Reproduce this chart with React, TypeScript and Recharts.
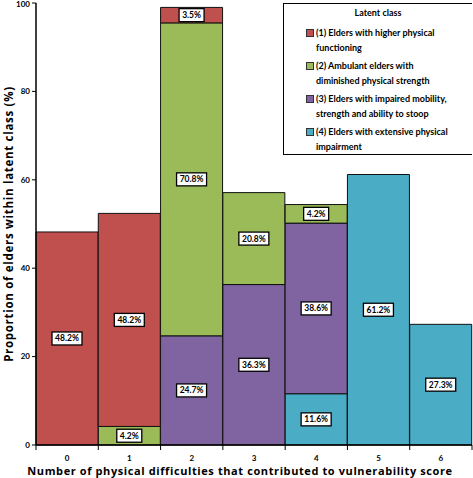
import React from 'react';
import { BarChart, Bar, XAxis, YAxis, LabelList, Legend, Label } from 'recharts';

const categories = ['0', '1', '2', '3', '4', '5', '6'];
const class1 = [48.2, 48.2, 3.5, null, null, null, null];
const class2 = [null, 4.2, 70.8, 20.8, 4.2, null, null];
const class3 = [null, null, 24.7, 36.3, 38.6, null, null];
const class4 = [null, null, null, null, 11.6, 61.2, 27.3];
const yTicks = [0, 20, 40, 60, 80, 100];

const seriesNames = [
  ['(1) Elders with higher physical', 'functioning'],
  ['(2) Ambulant elders with', 'diminished physical strength'],
  ['(3) Elders with impaired mobility,', 'strength and ability to stoop'],
  ['(4) Elders with extensive physical', 'impairment'],
];
const seriesColors = ['#C0504D', '#9BBB59', '#8064A2', '#4BACC6'];

const data = categories.map((c, i) => ({
  cat: c,
  c1: class1[i],
  c2: class2[i],
  c3: class3[i],
  c4: class4[i],
}));

const FONT = 'Lato, "Open Sans", sans-serif';
const TITLE_FONT = '"Open Sans", sans-serif';

const ValueBox = (props: any) => {
  const { x, y, width, height, value } = props;
  if (value == null) return null;
  const text = `${value}%`;
  const w = text.length * 5 + 5;
  const h = 13;
  const cx = x + width / 2;
  const cy = y + height / 2;
  return (
    <g>
      <rect x={cx - w / 2} y={cy - h / 2} width={w} height={h} fill="#fff" stroke="#000" strokeWidth={1.3} />
      <text x={cx} y={cy + 3} textAnchor="middle" fontFamily={FONT} fontWeight={700} fontSize={8.5} fill="#000">
        {text}
      </text>
    </g>
  );
};

const XTick = (props: any) => {
  const { x, y, payload, index } = props;
  const off = payload.offset || 0;
  return (
    <g>
      <line x1={x - off} y1={y - 8} x2={x - off} y2={y - 3} stroke="#000" />
      {index === categories.length - 1 && (
        <line x1={x + off} y1={y - 8} x2={x + off} y2={y - 3} stroke="#000" />
      )}
      <text x={x} y={y + 8} textAnchor="middle" fontFamily={FONT} fontWeight={700} fontSize={8} fill="#000">
        {payload.value}
      </text>
    </g>
  );
};

const LegendBox = () => (
  <div
    style={{
      width: 189,
      height: 152,
      border: '1.5px solid #000',
      borderRight: 'none',
      background: '#fff',
      boxSizing: 'border-box',
      fontFamily: FONT,
      fontSize: 9,
      fontWeight: 700,
      color: '#000',
      padding: '2px 0 0 22px',
    }}
  >
    <div style={{ textAlign: 'center', marginLeft: -22, marginBottom: 5, lineHeight: '14px' }}>Latent class</div>
    {seriesNames.map((lines, i) => (
      <div key={i} style={{ display: 'flex', marginBottom: 3, lineHeight: '15px' }}>
        <span
          style={{
            display: 'inline-block',
            width: 6,
            height: 6,
            background: seriesColors[i],
            border: '1px solid #333',
            marginTop: 4,
            marginRight: 2,
            flexShrink: 0,
          }}
        />
        <div>
          {lines.map((l, j) => (
            <div key={j}>{l}</div>
          ))}
        </div>
      </div>
    ))}
  </div>
);

export default function App() {
  return (
    <div style={{ position: 'absolute', left: 0, top: 0 }}>
      <BarChart
        width={473}
        height={478}
        data={data}
        margin={{ top: 3, right: 1, left: 0, bottom: 0 }}
        barCategoryGap={0}
      >
        <XAxis
          dataKey="cat"
          height={33}
          tickLine={false}
          axisLine={{ stroke: '#000', strokeWidth: 1.5 }}
          tick={<XTick />}
          interval={0}
        >
          <Label
            value="Number of physical difficulties that contributed to vulnerability score"
            position="insideBottom"
            offset={3}
            dx={-14}
            style={{ fontFamily: TITLE_FONT, fontWeight: 700, fontSize: 11, letterSpacing: 0.6, fill: '#000' }}
          />
        </XAxis>
        <XAxis xAxisId="top" dataKey="cat" orientation="top" height={0} tick={false} tickLine={false} axisLine={{ stroke: '#000', strokeWidth: 1.5 }} />
        <YAxis
          width={36}
          domain={[0, 100]}
          ticks={yTicks}
          tickSize={4}
          tickLine={{ stroke: '#000' }}
          axisLine={{ stroke: '#000', strokeWidth: 1.5 }}
          tick={{ fontFamily: FONT, fontWeight: 700, fontSize: 8, fill: '#000' }}
        >
          <Label
            value="Proportion of elders within latent class (%)"
            angle={-90}
            position="insideLeft"
            offset={9}
            style={{ textAnchor: 'middle', fontFamily: TITLE_FONT, fontWeight: 700, fontSize: 11.5, letterSpacing: 0.7, fill: '#000' }}
          />
        </YAxis>
        <YAxis yAxisId="right" orientation="right" width={0} domain={[0, 100]} tick={false} tickLine={false} axisLine={{ stroke: '#000', strokeWidth: 1.5 }} />
        <Legend
          layout="vertical"
          align="center"
          verticalAlign="middle"
          content={<LegendBox />}
          wrapperStyle={{ top: 3, left: 283, width: 189, height: 152 }}
        />
        <Bar dataKey="c4" stackId="a" fill={seriesColors[3]} stroke="#111" strokeWidth={1} isAnimationActive={false}>
          <LabelList dataKey="c4" content={<ValueBox />} />
        </Bar>
        <Bar dataKey="c3" stackId="a" fill={seriesColors[2]} stroke="#111" strokeWidth={1} isAnimationActive={false}>
          <LabelList dataKey="c3" content={<ValueBox />} />
        </Bar>
        <Bar dataKey="c2" stackId="a" fill={seriesColors[1]} stroke="#111" strokeWidth={1} isAnimationActive={false}>
          <LabelList dataKey="c2" content={<ValueBox />} />
        </Bar>
        <Bar dataKey="c1" stackId="a" fill={seriesColors[0]} stroke="#111" strokeWidth={1} isAnimationActive={false}>
          <LabelList dataKey="c1" content={<ValueBox />} />
        </Bar>
      </BarChart>
    </div>
  );
}
